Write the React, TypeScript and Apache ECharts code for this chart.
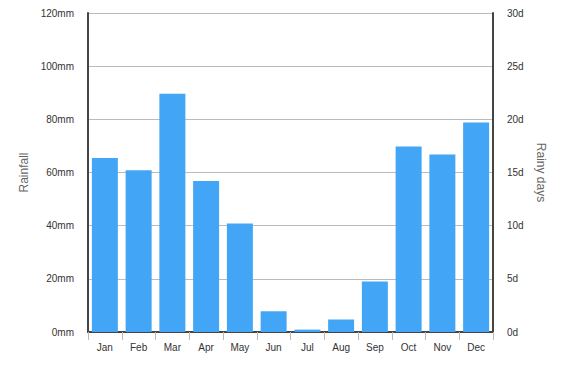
import React, { useEffect, useRef } from "react";
import * as echarts from "echarts";

const months = ["Jan", "Feb", "Mar", "Apr", "May", "Jun", "Jul", "Aug", "Sep", "Oct", "Nov", "Dec"];
const rainfall = [65.5, 60.8, 89.6, 56.8, 40.8, 7.8, 0.9, 4.7, 19, 69.8, 66.8, 78.8];

export default function App() {
  const ref = useRef<HTMLDivElement>(null);
  useEffect(() => {
    const chart = echarts.init(ref.current!, null, { renderer: "svg" });
    const font = "Arial, 'Liberation Sans', sans-serif";
    chart.setOption({
      animation: false,
      grid: { left: 88, right: 69, top: 13, bottom: 34 },
      xAxis: {
        type: "category",
        data: months,
        axisLine: { lineStyle: { color: "#444", width: 2 } },
        axisTick: { show: true, alignWithLabel: false, length: 8, lineStyle: { color: "#bbb" } },
        axisLabel: { color: "#333", fontSize: 10, fontFamily: font, margin: 10 },
      },
      yAxis: [
        {
          type: "value",
          min: 0,
          max: 120,
          interval: 20,
          name: "Rainfall",
          nameLocation: "middle",
          nameGap: 57,
          nameTextStyle: { color: "#666", fontSize: 12, fontFamily: font },
          axisLine: { show: true, lineStyle: { color: "#444", width: 2 } },
          axisTick: { show: false },
          axisLabel: { color: "#333", fontSize: 10, fontFamily: font, formatter: "{value}mm", margin: 14, padding: [4, 0, 0, 0] },
          splitLine: { lineStyle: { color: "#bbb" } },
        },
        {
          type: "value",
          min: 0,
          max: 30,
          interval: 5,
          name: "Rainy days",
          nameLocation: "middle",
          nameGap: 40,
          nameRotate: -90,
          nameTextStyle: { color: "#666", fontSize: 12, fontFamily: font },
          axisLine: { show: true, lineStyle: { color: "#444", width: 2 } },
          axisTick: { show: false },
          axisLabel: { color: "#333", fontSize: 10, fontFamily: font, formatter: "{value}d", margin: 14, padding: [4, 0, 0, 0] },
          splitLine: { show: false },
        },
      ],
      series: [
        {
          type: "bar",
          data: rainfall,
          yAxisIndex: 0,
          barCategoryGap: "23%",
          itemStyle: { color: "#42a5f5" },
        },
      ],
    });
    return () => chart.dispose();
  }, []);
  return <div ref={ref} style={{ width: 562, height: 366, position: "absolute", left: 0, top: 0 }} />;
}
